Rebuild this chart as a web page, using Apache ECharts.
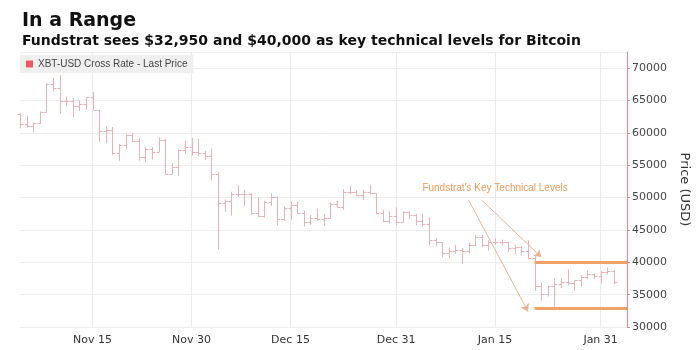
<!DOCTYPE html>
<html>
<head>
<meta charset="utf-8">
<script src="https://cdn.jsdelivr.net/npm/echarts@6/dist/echarts.min.js"></script>
<style>
  html, body { margin: 0; padding: 0; background: #fff; }
  #chart { width: 699px; height: 350px; }
</style>
</head>
<body>
<div id="chart"></div>
<script>
// daily bars, Nov 4 2021 .. Feb 2 2022
var dates = [];
var opens  = [62900,61400,61000,61500,63300,67500,66900,64900,64900,64100,64400,65500,63600,60300,60400,56900,58100,59700,58700,56300,57500,57100,58900,53600,54800,57300,57800,57000,56900,56500,53600,49200,49400,50600,50500,50600,47600,47100,49300,50100,46700,48400,48900,47600,46200,46800,46700,46900,49000,48600,50800,50800,50400,50800,50700,47600,46400,47100,46200,47700,47300,46400,45900,43500,43100,41500,41700,41900,41800,42700,43900,42600,43100,43100,43200,42200,42400,41700,40700,36400,35100,36300,36700,36900,36800,37200,37700,38200,37900,38500,38700];
var highs  = [63100,62600,61600,63300,67700,68500,68900,65600,65400,65000,65500,66300,63600,61000,60900,58300,59800,60000,59200,57800,57800,59300,59100,55300,57400,58800,59200,59100,57200,57600,53900,49700,50900,51900,51200,50700,50000,49500,50700,50200,48600,49400,49400,48000,47300,48300,47500,49300,49500,51300,51800,51100,51200,52000,50700,48100,47900,48500,47900,47900,47500,47500,47000,43700,43100,42300,42700,42200,43100,44300,44300,43400,43700,43500,43200,42700,42500,43400,41000,36800,36400,37500,37500,38900,37200,38000,38700,38300,38700,39200,38800];
var lows   = [60700,60800,60100,61400,63100,66400,63000,64100,62400,63400,63600,63600,58600,58400,56600,55700,57500,58500,55700,55400,55900,57000,53500,53600,53300,56800,56500,56500,55800,52700,42000,47800,47200,50100,48700,47300,47000,46900,48700,45700,46400,46600,47500,45500,45800,46400,45600,46700,48500,48100,50500,50200,49600,50500,47400,46200,46000,45700,46200,46700,45700,45500,42600,42500,40800,40600,41300,39700,41300,42500,42300,41800,42700,42600,41600,41300,41100,40600,35600,34100,34700,33000,36000,36400,35600,36200,37400,37400,36700,38100,36600];
var closes = [61400,61000,61500,63300,67500,66900,64900,64900,64100,64400,65500,63600,60300,60400,56900,58100,59700,58700,56300,57500,57100,58900,53600,54800,57300,57800,57000,56900,56500,53600,49200,49400,50600,50500,50600,47600,47100,49300,50100,46700,48400,48900,47600,46200,46800,46700,46900,49000,48600,50800,50800,50400,50800,50700,47600,46400,47100,46200,47700,47300,46400,45900,43500,43100,41500,41700,41900,41800,42700,43900,42600,43100,43100,43200,42200,42400,41700,40700,36400,35100,36300,36700,36900,36800,37200,37700,38200,37900,38500,38700,36900];
var labelDates = ['2021-11-15','2021-11-30','2021-12-15','2021-12-31','2022-01-15','2022-01-31'];
var levels = [32950, 40000];
var levelStart = '2022-01-21';

// category list runs two days past the last bar
(function(){
	var d = new Date(Date.UTC(2021, 10, 4));
	for (var i = 0; i < 93; i++) {
		dates.push(d.toISOString().slice(0, 10));
		d.setUTCDate(d.getUTCDate() + 1);
	}
})();

var months = ['Jan','Feb','Mar','Apr','May','Jun','Jul','Aug','Sep','Oct','Nov','Dec'];
function isLabelDay(index, value){ return labelDates.indexOf(value) >= 0; }

var ohlc = opens.map(function(o, i){ return [i, o, closes[i], lows[i], highs[i]]; });

var barColor = '#eab2b6';
var orange = '#f2a267';

function renderOHLC(params, api){
	var x = api.value(0);
	var o = api.coord([x, api.value(1)]);
	var c = api.coord([x, api.value(2)]);
	var l = api.coord([x, api.value(3)]);
	var h = api.coord([x, api.value(4)]);
	var px = Math.round(h[0]) + 0.5;
	var w = 3;
	var style = { stroke: barColor, lineWidth: 1, fill: null };
	return {
		type: 'group',
		children: [
			{ type: 'line', shape: { x1: px, y1: h[1], x2: px, y2: l[1] }, style: style },
			{ type: 'line', shape: { x1: px - w, y1: Math.round(o[1]) + 0.5, x2: px, y2: Math.round(o[1]) + 0.5 }, style: style },
			{ type: 'line', shape: { x1: px, y1: Math.round(c[1]) + 0.5, x2: px + w, y2: Math.round(c[1]) + 0.5 }, style: style }
		]
	};
}

var startIdx = dates.indexOf(levelStart);
var endIdx = dates.length - 1;

var chart = echarts.init(document.getElementById('chart'));
chart.setOption({
	animation: false,
	textStyle: { fontFamily: 'DejaVu Sans' },
	title: {
		text: 'In a Range',
		subtext: 'Fundstrat sees $32,950 and $40,000 as key technical levels for Bitcoin',
		left: 17, top: 7, itemGap: 3,
		textStyle: { fontSize: 19, fontWeight: 'bold', color: '#111', fontFamily: 'DejaVu Sans' },
		subtextStyle: { fontSize: 14, fontWeight: 'bold', color: '#111', fontFamily: 'DejaVu Sans' }
	},
	legend: {
		left: 20, top: 55,
		backgroundColor: '#efefef',
		padding: [4, 6, 4, 6],
		itemWidth: 7, itemHeight: 7, itemGap: 4,
		icon: 'rect',
		textStyle: { fontSize: 10, color: '#444', fontFamily: 'Liberation Sans' },
		data: [{ name: 'XBT-USD Cross Rate - Last Price', itemStyle: { color: '#ee5a5e' } }]
	},
	grid: { left: 20, right: 72, top: 52, bottom: 23 },
	xAxis: {
		type: 'category',
		data: dates,
		boundaryGap: false,
		axisLine: { show: false },
		axisTick: { show: false },
		axisLabel: {
			interval: isLabelDay,
			color: '#333', fontSize: 11, margin: 8,
			formatter: function(v){
				var p = v.split('-');
				return months[+p[1] - 1] + ' ' + (+p[2]);
			}
		},
		splitLine: { show: true, interval: isLabelDay, lineStyle: { color: '#ebebeb' } }
	},
	yAxis: {
		type: 'value',
		position: 'right',
		min: 30000, max: 72500, interval: 5000,
		name: 'Price (USD)',
		nameLocation: 'middle',
		nameRotate: -90,
		nameGap: 44,
		nameTextStyle: { fontSize: 13, color: '#333' },
		axisLine: { show: true, lineStyle: { color: '#e8868a' } },
		axisTick: { show: true, length: 3, lineStyle: { color: '#e8868a' } },
		axisLabel: {
			color: '#444', fontSize: 11, margin: 5, showMaxLabel: false,
			formatter: function(v){ return String(v); }
		},
		splitLine: { lineStyle: { color: '#ededed' } }
	},
	series: [{
		name: 'XBT-USD Cross Rate - Last Price',
		type: 'custom',
		renderItem: renderOHLC,
		itemStyle: { color: barColor },
		encode: { x: 0, y: [1, 2, 3, 4] },
		data: ohlc,
		markLine: {
			silent: true,
			animation: false,
			label: { show: false },
			data: [
				[{ coord: [startIdx, levels[0]], symbol: 'none', lineStyle: { color: orange, width: 3, type: 'solid' } },
				 { coord: [endIdx, levels[0]], symbol: 'none' }],
				[{ coord: [startIdx, levels[1]], symbol: 'none', lineStyle: { color: orange, width: 3, type: 'solid' } },
				 { coord: [endIdx, levels[1]], symbol: 'none' }],
				[{ coord: [68, 49600], symbol: 'none', lineStyle: { color: '#eab393', width: 1, type: 'solid' } },
				 { coord: [77, 32400], symbol: 'arrow', symbolSize: 7 }],
				[{ coord: [70, 49600], symbol: 'none', lineStyle: { color: '#eab393', width: 1, type: 'solid' } },
				 { coord: [79, 40800], symbol: 'arrow', symbolSize: 7 }]
			]
		},
		markPoint: {
			silent: true,
			symbol: 'circle', symbolSize: 0,
			data: [{ coord: [72, 51500] }],
			label: {
				show: true, position: 'inside',
				formatter: "Fundstrat's Key Technical Levels",
				color: '#f09a5a', fontSize: 10, fontFamily: 'Liberation Sans'
			}
		}
	}]
});
</script>
</body>
</html>
